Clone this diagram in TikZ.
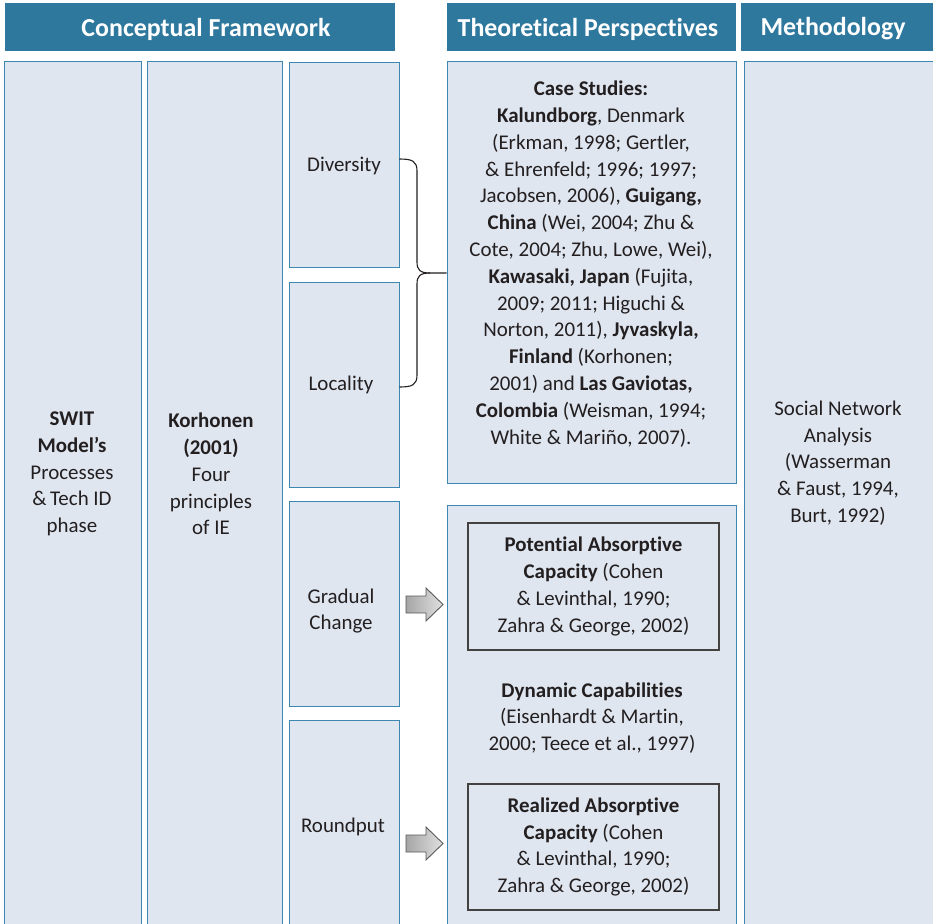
\documentclass[tikz,border=0pt]{standalone}
\usepackage{fontspec}
\setmainfont{Carlito}[Ligatures={NoCommon}]
\definecolor{hdr}{HTML}{2E789E}
\definecolor{boxfill}{HTML}{DFE6F0}
\definecolor{boxline}{HTML}{3C88B0}
\definecolor{txt}{HTML}{231F20}
\begin{document}
\begin{tikzpicture}[x=1bp,y=-1bp,
  hdrbox/.style={fill=hdr, draw=none, inner sep=0},
  hdrtext/.style={text=white, font=\bfseries\fontsize{26}{30}\selectfont, inner sep=0},
  cell/.style={fill=boxfill, draw=boxline, line width=1bp, inner sep=0},
  body/.style={text=txt, font=\fontsize{21}{26.9}\selectfont, align=center, inner sep=0},
  innerbox/.style={draw=txt!85, line width=1.3bp, inner sep=0, text=txt, font=\fontsize{21}{26.9}\selectfont, align=center},
  blockarrow/.style={draw=black!65, line width=0.9bp, left color=black!35, right color=black!12},
  bracestyle/.style={draw=txt, line width=1.1bp},
]
\path[use as bounding box, clip] (0,0) rectangle (933,924);
% headers
\node[hdrbox, minimum width=390bp, minimum height=48bp] (hcf) at (200,27) {};
\node[hdrbox, minimum width=289bp, minimum height=48bp] (htp) at (591.5,27) {};
\node[hdrbox, minimum width=192bp, minimum height=48bp] (hmeth) at (837,27) {};
\node[hdrtext] (thcf) at (206,29) {Conceptual Framework};
\node[hdrtext] (thtp) at (588,29) {Theoretical Perspectives};
\node[hdrtext] (thmeth) at (833,29) {Methodology};
% columns
\node[cell, minimum width=136bp, minimum height=868bp] (c1) at (73,496) {};
\node[cell, minimum width=135bp, minimum height=868bp] (c2) at (214.5,496) {};
\node[cell, minimum width=110bp, minimum height=205bp] (div) at (344,164.5) {};
\node[cell, minimum width=110bp, minimum height=205bp] (loc) at (344,384.5) {};
\node[cell, minimum width=110bp, minimum height=205bp] (grad) at (344,603.5) {};
\node[cell, minimum width=110bp, minimum height=210bp] (rnd) at (344,825) {};
\node[cell, minimum width=289bp, minimum height=421bp] (case) at (591.5,272.5) {};
\node[cell, minimum width=289bp, minimum height=425bp] (dyn) at (591.5,717.5) {};
\node[cell, minimum width=196bp, minimum height=868bp] (meth) at (842,496) {};
% texts
\node[body] (t1) at (72,474) {\textbf{SWIT}\\\textbf{Model’s}\\Processes\\\&\,Tech ID\\phase};
\node[body] (t2) at (211,474) {\textbf{Korhonen}\\\textbf{(2001)}\\Four\\principles\\of IE};
\node[body] (tdiv) at (344,166) {Diversity};
\node[body] (tloc) at (341,385) {Locality};
\node[body] (tgrad) at (341,611) {Gradual\\Change};
\node[body] (trnd) at (343,827) {Roundput};
\node[body] (tcase) at (591,264) {\textbf{Case Studies:}\\\textbf{Kalundborg}, Denmark\\(Erkman, 1998; Gertler,\\\& Ehrenfeld; 1996; 1997;\\Jacobsen, 2006), \textbf{Guigang,}\\\textbf{China} (Wei, 2004; Zhu \&\\Cote, 2004; Zhu, Lowe, Wei),\\\textbf{Kawasaki, Japan} (Fujita,\\2009; 2011; Higuchi \&\\Norton, 2011), \textbf{Jyvaskyla,}\\\textbf{Finland} (Korhonen;\\2001) and \textbf{Las Gaviotas,}\\\textbf{Colombia} (Weisman, 1994;\\White \& Mariño, 2007).};
\node[innerbox, minimum width=251bp, minimum height=127bp] (pac) at (593.5,586.5) {\textbf{Potential Absorptive}\\\textbf{Capacity} (Cohen\\\& Levinthal, 1990;\\Zahra \& George, 2002)};
\node[body] (tdyn) at (592,718) {\textbf{Dynamic Capabilities}\\(Eisenhardt \& Martin,\\2000; Teece et al., 1997)};
\node[innerbox, minimum width=251bp, minimum height=126bp] (rac) at (593.5,847) {\textbf{Realized Absorptive}\\\textbf{Capacity} (Cohen\\\& Levinthal, 1990;\\Zahra \& George, 2002)};
\node[body] (tmeth) at (838,463) {Social Network\\Analysis\\(Wasserman\\\& Faust, 1994,\\Burt, 1992)};
% brace from Diversity and Locality to case studies
\coordinate (btip) at (case.west |- 0,273);
\draw[bracestyle] (div.east |- 0,159) .. controls (412,159) and (417,161) .. (417,171)
  -- (417,262) .. controls (417,270) and (420,273) .. (430,273) -- (btip);
\draw[bracestyle] (loc.east |- 0,387) .. controls (412,387) and (417,385) .. (417,375)
  -- (417,284) .. controls (417,276) and (420,273) .. (430,273);
% block arrows
\path[blockarrow] (406,596) -- (426,596) -- (426,588) -- (443,604.5) -- (426,621) -- (426,613) -- (406,613) -- cycle;
\path[blockarrow] (406,835) -- (426,835) -- (426,827) -- (443,843.5) -- (426,860) -- (426,852) -- (406,852) -- cycle;
\end{tikzpicture}
\end{document}
